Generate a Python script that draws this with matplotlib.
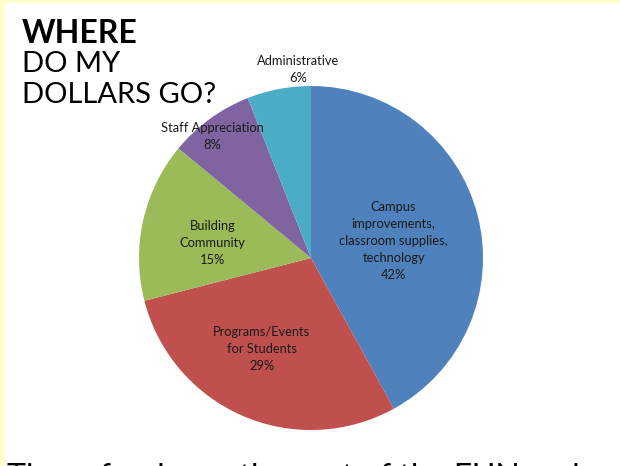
import numpy as np
import matplotlib.pyplot as plt
from matplotlib.patches import Rectangle

# Data
categories = ['Campus\nimprovements,\nclassroom supplies,\ntechnology',
              'Programs/Events\nfor Students',
              'Building\nCommunity',
              'Staff Appreciation',
              'Administrative']
shares = [42, 29, 15, 8, 6]
colors = ['#4F81BD', '#C0504D', '#9BBB59', '#8064A2', '#4BACC6']

# label placement (radius as fraction of pie radius, angle nudge in degrees)
label_dist = [0.49, 0.60, 0.58, 0.91, 1.10]
label_nudge = [-3, -5, 4, 3, -7]

plt.rcParams['font.family'] = ['Lato', 'DejaVu Sans']

W, H = 620, 466
fig = plt.figure(figsize=(W / 100, H / 100), dpi=100, facecolor='#FFFFCC')

# white slide panel (behind everything)
fig.patches.append(Rectangle((5 / W, 0), 1, 1 - 3 / H, transform=fig.transFigure,
                             facecolor='white', edgecolor='none', zorder=-10))

# pie axes: centre (311, 258) px, radius 172 px
cx, cy, r = 311, 258, 172
ax = fig.add_axes([(cx - r) / W, (H - cy - r) / H, 2 * r / W, 2 * r / H])
ax.set_zorder(1)
ax.patch.set_visible(False)
wedges, _ = ax.pie(shares, colors=colors, startangle=90, counterclock=False,
                   radius=1, wedgeprops=dict(linewidth=0))
ax.set_xlim(-1, 1)
ax.set_ylim(-1, 1)
ax.set_aspect('equal')
ax.axis('off')

for w, cat, val, d, nud in zip(wedges, categories, shares, label_dist, label_nudge):
    ang = np.deg2rad((w.theta1 + w.theta2) / 2 + nud)
    ax.text(d * np.cos(ang), d * np.sin(ang), f'{cat}\n{val}%',
            ha='center', va='center', fontsize=9.3, color='#1a1a1a',
            linespacing=1.5, clip_on=False)

# title block
fig.text(22 / W, 1 - 19 / H, 'WHERE', fontsize=23, fontweight='bold',
         va='top', ha='left', color='black', zorder=2)
fig.text(22 / W, 1 - 51 / H, 'DO MY', fontsize=21,
         va='top', ha='left', color='black', zorder=2)
fig.text(22 / W, 1 - 82 / H, 'DOLLARS GO?', fontsize=21,
         va='top', ha='left', color='black', zorder=2)

# caption cut off by the bottom edge (only the top of the capitals shows)
fig.text(7 / W, 1 - 487 / H, 'These funds are the root of the FUN and',
         fontsize=23, va='baseline', ha='left', color='black', zorder=2)

fig.savefig('out.png', dpi=100, facecolor=fig.get_facecolor())
